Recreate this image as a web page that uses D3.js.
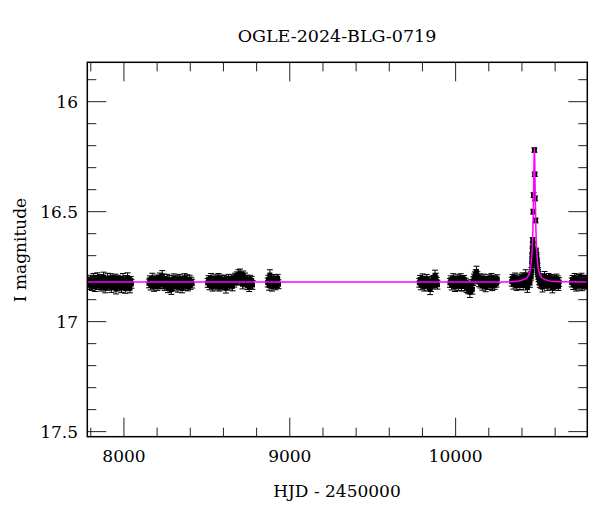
<!DOCTYPE html>
<html><head><meta charset="utf-8">
<script src="https://cdn.jsdelivr.net/npm/d3@7"></script>
<style>body{margin:0;background:#fff}svg{display:block}</style>
</head><body><svg id="c" width="600" height="512"></svg>
<script>
const title = "OGLE-2024-BLG-0719";
const xLabel = "HJD - 2450000";
const yLabel = "I magnitude";
const xTicks = [8000, 9000, 10000];
const yTicks = [16, 16.5, 17, 17.5];
const xDomain = [7779, 10794];
const yDomain = [15.821, 17.523];

// [HJD-2450000, I mag, error]
const season1 = [[7784,16.823,.020],[7789,16.815,.018],[7793,16.832,.022],[7798,16.808,.019],[7803,16.826,.021],[7807,16.838,.020],[7812,16.818,.018],[7817,16.803,.022],[7821,16.829,.019],[7826,16.842,.021],[7831,16.810,.020],[7835,16.822,.018],[7840,16.799,.021],[7845,16.835,.019],[7849,16.819,.022],[7854,16.827,.018],[7859,16.806,.020],[7863,16.840,.021],[7868,16.816,.019],[7873,16.824,.018],[7877,16.797,.022],[7882,16.833,.020],[7887,16.848,.021],[7891,16.811,.018],[7896,16.821,.019],[7901,16.804,.024],[7905,16.837,.020],[7910,16.817,.018],[7915,16.830,.021],[7919,16.801,.019],[7924,16.845,.022],[7929,16.820,.018],[7933,16.809,.020],[7938,16.836,.019],[7943,16.825,.021],[7947,16.802,.018],[7952,16.852,.022],[7957,16.814,.019],[7961,16.831,.020],[7966,16.807,.018],[7971,16.839,.021],[7975,16.822,.019],[7980,16.812,.018],[7985,16.846,.022],[7989,16.826,.020],[7994,16.805,.024],[7999,16.835,.019],[8003,16.818,.018],[8008,16.850,.021],[8013,16.810,.020],[8017,16.829,.018],[8022,16.800,.022],[8027,16.840,.019],[8031,16.820,.020],[8036,16.848,.021],[8041,16.813,.018],[8045,16.828,.020]];
const season2 = [[8151,16.826,.020],[8156,16.810,.018],[8161,16.835,.021],[8166,16.818,.019],[8171,16.802,.022],[8176,16.829,.018],[8181,16.842,.020],[8186,16.813,.019],[8191,16.823,.021],[8196,16.806,.018],[8201,16.838,.020],[8206,16.819,.019],[8211,16.827,.022],[8216,16.799,.020],[8221,16.833,.018],[8226,16.810,.021],[8231,16.792,.024],[8236,16.822,.019],[8241,16.804,.020],[8246,16.840,.018],[8251,16.817,.021],[8256,16.830,.019],[8261,16.807,.022],[8266,16.848,.020],[8271,16.821,.018],[8276,16.811,.021],[8281,16.836,.019],[8286,16.854,.022],[8291,16.819,.018],[8296,16.826,.020],[8301,16.802,.019],[8306,16.839,.021],[8311,16.814,.018],[8316,16.829,.020],[8321,16.808,.019],[8326,16.844,.022],[8331,16.822,.018],[8336,16.805,.020],[8341,16.834,.021],[8346,16.818,.019],[8351,16.849,.020],[8356,16.811,.018],[8361,16.826,.021],[8366,16.801,.019],[8371,16.837,.020],[8376,16.820,.018],[8381,16.809,.022],[8386,16.841,.019],[8391,16.824,.020],[8396,16.807,.018],[8401,16.832,.021],[8406,16.817,.019],[8411,16.827,.020]];
const season3 = [[8505,16.824,.020],[8510,16.809,.018],[8515,16.834,.021],[8520,16.817,.019],[8525,16.803,.022],[8530,16.828,.018],[8535,16.841,.020],[8540,16.812,.019],[8545,16.822,.021],[8550,16.805,.018],[8555,16.836,.020],[8560,16.819,.019],[8565,16.826,.022],[8570,16.801,.020],[8575,16.843,.018],[8580,16.814,.021],[8585,16.829,.019],[8590,16.808,.020],[8595,16.838,.018],[8600,16.821,.021],[8605,16.810,.019],[8610,16.833,.020],[8615,16.848,.022],[8620,16.813,.018],[8625,16.824,.020],[8630,16.804,.019],[8635,16.835,.021],[8640,16.818,.018],[8645,16.827,.020],[8650,16.806,.019],[8655,16.839,.021],[8660,16.812,.018],[8665,16.823,.020],[8670,16.799,.019],[8675,16.810,.021],[8680,16.794,.020],[8685,16.816,.018],[8690,16.786,.022],[8695,16.804,.019],[8700,16.782,.021],[8705,16.810,.020],[8710,16.795,.018],[8715,16.830,.021],[8720,16.790,.020],[8725,16.813,.019],[8730,16.800,.021],[8735,16.824,.018],[8740,16.809,.020],[8745,16.835,.019],[8750,16.818,.021],[8755,16.843,.020],[8760,16.807,.018],[8765,16.827,.021],[8770,16.813,.019],[8775,16.833,.020]];
const season4 = [[8867,16.822,.020],[8871,16.808,.019],[8875,16.836,.021],[8880,16.788,.024],[8884,16.826,.019],[8888,16.813,.020],[8893,16.840,.021],[8897,16.819,.018],[8901,16.806,.020],[8906,16.829,.019],[8910,16.817,.021],[8914,16.835,.020],[8919,16.810,.018],[8923,16.824,.021],[8927,16.804,.019],[8932,16.830,.020]];
const season5 = [[9781,16.823,.020],[9786,16.809,.019],[9791,16.834,.021],[9796,16.817,.018],[9801,16.803,.020],[9806,16.828,.019],[9811,16.840,.021],[9816,16.812,.018],[9821,16.822,.020],[9826,16.805,.019],[9831,16.836,.021],[9836,16.819,.018],[9841,16.826,.020],[9846,16.853,.024],[9851,16.842,.021],[9856,16.814,.019],[9861,16.831,.020],[9866,16.808,.018],[9871,16.824,.021],[9876,16.790,.024],[9881,16.800,.020],[9886,16.818,.019],[9890,16.832,.020]];
const season6 = [[9966,16.824,.020],[9971,16.810,.018],[9976,16.835,.021],[9981,16.818,.019],[9986,16.802,.020],[9991,16.829,.018],[9996,16.842,.021],[10001,16.813,.019],[10006,16.823,.020],[10011,16.805,.018],[10016,16.837,.021],[10021,16.819,.019],[10026,16.827,.020],[10031,16.800,.018],[10036,16.840,.021],[10041,16.814,.019],[10046,16.829,.020],[10051,16.808,.018],[10056,16.838,.021],[10061,16.822,.019],[10066,16.845,.022],[10071,16.831,.020],[10076,16.852,.021],[10081,16.838,.019],[10086,16.866,.024],[10091,16.847,.021],[10096,16.828,.019],[10101,16.853,.022],[10106,16.816,.020],[10111,16.803,.019],[10116,16.795,.021],[10121,16.784,.020],[10126,16.772,.024],[10131,16.793,.020],[10136,16.807,.019],[10141,16.820,.021],[10146,16.801,.018],[10151,16.827,.020],[10156,16.811,.019],[10161,16.836,.021],[10166,16.818,.018],[10171,16.804,.020],[10176,16.829,.019],[10181,16.842,.022],[10186,16.813,.018],[10191,16.823,.020],[10196,16.806,.019],[10201,16.833,.021],[10206,16.817,.018],[10211,16.826,.020],[10216,16.800,.019],[10221,16.838,.021],[10226,16.819,.018],[10231,16.809,.020],[10236,16.834,.019],[10241,16.816,.021],[10246,16.825,.018],[10251,16.807,.020]];
const season7 = [[10338,16.818,.020],[10343,16.804,.018],[10348,16.831,.021],[10353,16.810,.019],[10358,16.799,.020],[10363,16.824,.018],[10368,16.837,.021],[10373,16.813,.019],[10378,16.820,.020],[10383,16.802,.018],[10388,16.833,.021],[10393,16.814,.019],[10398,16.825,.020],[10403,16.796,.018],[10408,16.835,.021],[10413,16.810,.019],[10418,16.822,.020],[10423,16.788,.024],[10428,16.806,.019],[10433,16.845,.022],[10438,16.812,.018],[10443,16.800,.020],[10448,16.825,.019],[10453,16.794,.020],[10455,16.790,.016],[10458,16.770,.016],[10460,16.740,.015],[10461,16.720,.015],[10462,16.700,.014],[10463,16.680,.014],[10464,16.670,.014],[10465,16.630,.012],[10466,16.650,.013],[10468,16.500,.011],[10470,16.425,.011],[10475,16.220,.010],[10477,16.330,.010],[10479,16.440,.011],[10482,16.540,.011],[10486,16.680,.014],[10487,16.710,.014],[10488,16.700,.014],[10489,16.720,.014],[10490,16.740,.015],[10491,16.730,.015],[10492,16.760,.015],[10494,16.750,.016],[10495,16.780,.016],[10497,16.770,.016],[10498,16.790,.017],[10501,16.800,.018],[10504,16.812,.020],[10508,16.825,.019],[10512,16.803,.021],[10516,16.832,.018],[10520,16.817,.020],[10524,16.843,.022],[10528,16.807,.019],[10532,16.822,.020],[10536,16.793,.021],[10540,16.813,.018],[10544,16.828,.020],[10548,16.809,.019],[10552,16.837,.021],[10556,16.819,.018],[10560,16.801,.020],[10564,16.826,.019],[10568,16.812,.021],[10572,16.834,.018],[10576,16.806,.020],[10580,16.823,.019],[10584,16.848,.021],[10588,16.814,.018],[10592,16.829,.020],[10596,16.808,.019],[10600,16.836,.021],[10604,16.818,.018],[10608,16.804,.020],[10612,16.827,.019],[10616,16.813,.021],[10620,16.840,.018],[10624,16.820,.020]];
const season8 = [[10700,16.822,.020],[10705,16.808,.018],[10709,16.833,.021],[10714,16.816,.019],[10718,16.801,.020],[10723,16.827,.018],[10727,16.840,.021],[10732,16.811,.019],[10736,16.821,.020],[10741,16.804,.018],[10745,16.835,.021],[10750,16.818,.019],[10754,16.826,.020],[10759,16.798,.018],[10763,16.838,.021],[10768,16.813,.019],[10772,16.830,.020],[10777,16.807,.018],[10781,16.824,.021],[10786,16.810,.019],[10790,16.832,.020]];

// model curve
const modelT   = [7779, 10275, 10355, 10405, 10430, 10445, 10453, 10459, 10463, 10466, 10469, 10471, 10473, 10475, 10477, 10479, 10481, 10484, 10487, 10491, 10497, 10505, 10520, 10545, 10595, 10794];
const modelMag = [16.82, 16.82, 16.818, 16.81, 16.80, 16.78, 16.75, 16.70, 16.65, 16.58, 16.47, 16.37, 16.26, 16.21, 16.26, 16.37, 16.47, 16.58, 16.65, 16.70, 16.75, 16.78, 16.80, 16.81, 16.818, 16.82];

const seasons = [season1, season2, season3, season4, season5, season6, season7, season8];
const points = seasons.flat();

const svg = d3.select("#c");
const L = 87.3, R = 587.3, T = 62.3, B = 436.7;
const x = d3.scaleLinear().domain(xDomain).range([L, R]);
const y = d3.scaleLinear().domain(yDomain).range([T, B]);
const font = "'DejaVu Serif', serif";

svg.append("rect").attr("width", 600).attr("height", 512).attr("fill", "#fff");

svg.append("defs").append("clipPath").attr("id", "clip")
  .append("rect").attr("x", L).attr("y", T).attr("width", R - L).attr("height", B - T);

const plot = svg.append("g").attr("clip-path", "url(#clip)");

// error bars
const eb = plot.append("g").attr("stroke", "#000").attr("stroke-width", 1);
points.forEach(p => {
  const cx = x(p[0]);
  const y1 = y(p[1] - p[2]), y2 = y(p[1] + p[2]);
  eb.append("line").attr("x1", cx).attr("x2", cx).attr("y1", y1).attr("y2", y2);
  eb.append("line").attr("x1", cx - 3).attr("x2", cx + 3).attr("y1", y1).attr("y2", y1);
  eb.append("line").attr("x1", cx - 3).attr("x2", cx + 3).attr("y1", y2).attr("y2", y2);
});
plot.append("g").selectAll("rect").data(points).join("rect")
  .attr("x", d => x(d[0]) - 2.5).attr("y", d => y(d[1]) - 2.5)
  .attr("width", 5).attr("height", 5).attr("fill", "#000");

// model
const model = modelT.map((t, i) => [t, modelMag[i]]);
plot.append("path").datum(model)
  .attr("fill", "none").attr("stroke", "#ff00ff").attr("stroke-width", 1.5)
  .attr("d", d3.line().x(d => x(d[0])).y(d => y(d[1])).curve(d3.curveMonotoneX));

// axes with inward ticks on all sides
const xMinor = d3.range(7800, 10800, 200);
const yMinor = d3.range(15.9, 17.51, 0.1).map(v => +v.toFixed(1));
const tk = svg.append("g").attr("stroke", "#222").attr("stroke-width", 1);
xMinor.forEach(v => {
  const major = xTicks.includes(v);
  const len = major ? 19 : 9;
  const px = x(v);
  tk.append("line").attr("x1", px).attr("x2", px).attr("y1", B).attr("y2", B - len);
  tk.append("line").attr("x1", px).attr("x2", px).attr("y1", T).attr("y2", T + len);
});
yMinor.forEach(v => {
  const major = yTicks.some(t => Math.abs(t - v) < 1e-6);
  const len = major ? 19 : 9;
  const py = y(v);
  tk.append("line").attr("x1", L).attr("x2", L + len).attr("y1", py).attr("y2", py);
  tk.append("line").attr("x1", R).attr("x2", R - len).attr("y1", py).attr("y2", py);
});
svg.append("rect").attr("x", L).attr("y", T).attr("width", R - L).attr("height", B - T)
  .attr("fill", "none").attr("stroke", "#000").attr("stroke-width", 1.5);

// tick labels
svg.append("g").selectAll("text").data(xTicks).join("text")
  .attr("x", d => x(d)).attr("y", 462).attr("text-anchor", "middle")
  .attr("font-family", font).attr("font-size", 17).attr("fill", "#000").text(d => d);
svg.append("g").selectAll("text").data(yTicks).join("text")
  .attr("x", 78).attr("y", d => y(d) + 6).attr("text-anchor", "end")
  .attr("font-family", font).attr("font-size", 17).attr("fill", "#000").text(d => d);

svg.append("text").attr("x", 337).attr("y", 42).attr("text-anchor", "middle")
  .attr("font-family", font).attr("font-size", 17.5).attr("fill", "#000").text(title);
svg.append("text").attr("x", 337).attr("y", 497).attr("text-anchor", "middle")
  .attr("font-family", font).attr("font-size", 17).attr("fill", "#000").text(xLabel);
svg.append("text").attr("transform", "translate(26,250) rotate(-90)").attr("text-anchor", "middle")
  .attr("font-family", font).attr("font-size", 17).attr("fill", "#000").text(yLabel);
</script>
</body></html>
